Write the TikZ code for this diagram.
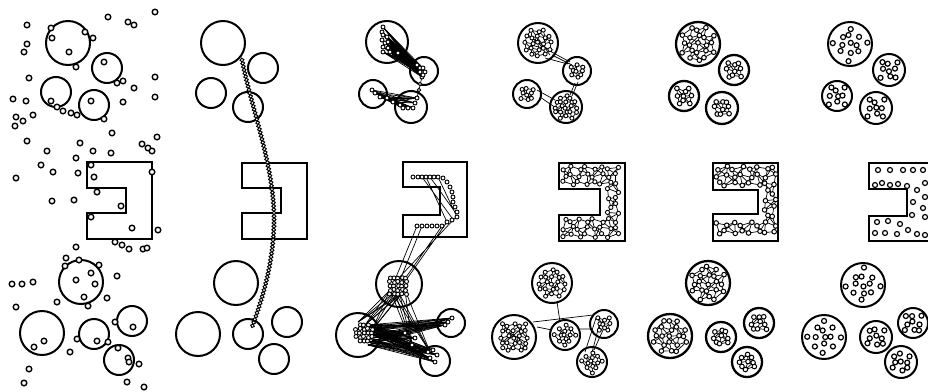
\documentclass[tikz,border=0pt]{standalone}
\usetikzlibrary{decorations.markings}
% grid network: #1 x0 #2 y0 #3 imax #4 jmax #5 spacing #6 test(\X,\Y) #7 edges #8 node radius #9 jitter
\newcommand\gridnet[9]{%
 \ifnum#7>0\relax
 \foreach \i in {0,...,#3}{\foreach \j in {0,...,#4}{%
   \pgfmathsetmacro\X{#1+\i*#5}\pgfmathsetmacro\Y{#2+\j*#5}%
   \pgfmathtruncatemacro\okA{#6}%
   \ifnum\okA=1
     \pgfmathsetmacro\ax{#1+\i*#5+#9*jx(\i,\j,#1)}\pgfmathsetmacro\ay{#2+\j*#5+#9*jy(\i,\j,#2)}%
     \pgfmathsetmacro\X{#1+(\i+1)*#5}\pgfmathsetmacro\Y{#2+\j*#5}\pgfmathtruncatemacro\okB{#6}%
     \ifnum\okB=1 \draw[lnk] (\ax,\ay) -- ({\X+#9*jx(\i+1,\j,#1)},{\Y+#9*jy(\i+1,\j,#2)});\fi
     \pgfmathsetmacro\X{#1+\i*#5}\pgfmathsetmacro\Y{#2+(\j+1)*#5}\pgfmathtruncatemacro\okB{#6}%
     \ifnum\okB=1 \draw[lnk] (\ax,\ay) -- ({\X+#9*jx(\i,\j+1,#1)},{\Y+#9*jy(\i,\j+1,#2)});\fi
     \pgfmathtruncatemacro\dd{mod(\i+\j,2)==0 ? 1 : -1}%
     \pgfmathsetmacro\X{#1+(\i+1)*#5}\pgfmathsetmacro\Y{#2+((\j)+(\dd))*#5}\pgfmathtruncatemacro\okB{#6}%
     \ifnum\okB=1 \draw[lnk] (\ax,\ay) -- ({\X+#9*jx(\i+1,(\j)+(\dd),#1)},{\Y+#9*jy(\i+1,(\j)+(\dd),#2)});\fi
   \fi
 }}%
 \fi
 \foreach \i in {0,...,#3}{\foreach \j in {0,...,#4}{%
   \pgfmathsetmacro\X{#1+\i*#5}\pgfmathsetmacro\Y{#2+\j*#5}%
   \pgfmathtruncatemacro\okA{#6}%
   \ifnum\okA=1 \draw[dot] ({\X+#9*jx(\i,\j,#1)},{\Y+#9*jy(\i,\j,#2)}) circle (#8pt);\fi
 }}%
}
% circle network: #1 cx #2 cy #3 r #4 spacing #5 edges #6 node radius #7 jitter #8 inset
\newcommand\circnet[8]{%
 \pgfmathtruncatemacro\cnN{floor((#3-#8)/#4)}%
 \pgfmathtruncatemacro\cnM{2*\cnN}%
 \pgfmathsetmacro\cnx{#1-\cnN*#4}\pgfmathsetmacro\cny{#2-\cnN*#4}%
 \gridnet{\cnx}{\cny}{\cnM}{\cnM}{#4}{(\X-(#1))^2+(\Y-(#2))^2<(#3-#8)^2}{#5}{#6}{#7}%
}
% C-shaped obstacle: x0 y0 x1 y1 notch-x notch-y1 notch-y2
\newcommand\Cshape[7]{\draw[obst] (#1,#2) -- (#3,#2) -- (#3,#4) -- (#1,#4) -- (#1,#7) -- (#5,#7) -- (#5,#6) -- (#1,#6) -- cycle;}
\begin{document}
\begin{tikzpicture}[x=1pt,y=-1pt,
 obst/.style={line width=2pt},
 smallc/.style={line width=1.4pt,fill=white},
 beadst/.style={line width=0.9pt,fill=white},
 lnk/.style={line width=0.7pt},
 dot/.style={line width=1pt,fill=white},
 declare function={jx(\a,\b,\c)=sin(137*\a+241*\b+\c); jy(\a,\b,\c)=cos(173*\a+89*\b+2*\c);}]
\useasboundingbox (0,0) rectangle (928,391);
\clip (0,0) rectangle (928,391);

% ================= Panel 1 =================
\foreach \x/\y/\r in {68/43/22,107/68/15,56/92/15,94/105/15,81/282/22,42/333/22,94/334/15,132/321/15,119/360/15}
  \draw[obst] (\x,\y) circle (\r pt);
\Cshape{87}{162}{152}{239}{126}{188}{213}
\foreach \p in {(108,17),(128,22),(134,25),(155,12),(27,25),(51,28),(52,38),(85,32),(93,38),(27,44),(24,52),(69,52),
 (76,67),(104,62),(117,83),(123,81),(155,77),(29,78),(134,88),(13,99),(26,101),(155,97),(123,102),(51,101),(57,107),
 (63,111),(71,113),(77,115),(91,101),(104,119),(16,117),(23,121),(15,126),(33,115),(112,133),(27,141),(80,143),
 (47,151),(76,158),(93,151),(111,153),(142,144),(148,148),(152,151),(157,137),(41,165),(53,172),(78,173),(91,165),
 (94,177),(152,172),(16,178),(97,192),(52,201),(74,200),(121,206),(91,217),(132,228),(158,230),(115,242),(122,245),
 (129,249),(143,249),(147,248),(76,247),(66,258),(79,260),(99,265),(117,276),(91,273),(76,280),(95,284),(84,297),
 (65,266),(12,284),(22,284),(33,282),(57,302),(107,298),(16,307),(88,306),(115,322),(133,327),(77,339),(97,341),
 (108,342),(44,341),(34,347),(70,352),(118,348),(128,358),(129,362),(139,364),(29,369),(24,383),(127,382),(144,387)}
  \draw[smallc] \p circle (2.8pt);

% ================= Panel 2 =================
\foreach \x/\y/\r in {223/43/22,263/68/15,211/93/15,248/107/15,236/283/22,198/334/22,248/334/15,287/322/15,274/359/15}
  \draw[obst] (\x,\y) circle (\r pt);
\Cshape{242}{163}{307}{239}{281}{188}{213}
\path[decorate,decoration={markings,mark=between positions 0 and 1 step 3.4pt with {\draw[beadst,line width=1pt] (0,0) circle (1.9pt);}}]
  (242,60) .. controls (252,110) and (272,160) .. (274,213) .. controls (275,260) and (262,300) .. (252,327);

% ================= Panel 3 =================
\foreach \x/\y/\r in {387/42/21,424/71/14,373/94/14,411/107/16,399/284/23,358/335/22,451/323/14,435/361/15}
  \draw[obst] (\x,\y) circle (\r pt);
\Cshape{403}{162}{467}{237}{440}{187}{215}
\def\PtA{(383,27),(382,32),(383,35),(387,37),(382,40),(385,43),(388,42),(383,47),(388,48),(383,52),(390,52),(398,53)}
\def\PtB{(417,65),(420,68),(423,68),(420,72),(425,72),(422,77),(423,75)}
\def\PtC{(372,90),(375,93),(380,97),(387,98),(393,102)}
\def\PtD{(400,105),(403,108),(408,108),(413,108),(415,103),(417,98)}
\foreach \p in \PtA {\foreach \q in \PtB {\draw[lnk] \p -- \q;}}
\foreach \p in \PtC {\foreach \q in \PtD {\draw[lnk] \p -- \q;}}
\draw[lnk] (422,77) -- (417,98);
\foreach \p in \PtA {\draw[beadst] \p circle (2pt);}
\foreach \p in \PtB {\draw[beadst] \p circle (2pt);}
\foreach \p in \PtC {\draw[beadst] \p circle (2pt);}
\foreach \p in \PtD {\draw[beadst] \p circle (2pt);}
\draw[beadst] (420,84) circle (1.8pt) (419,90) circle (1.8pt);
% C interior chain
\draw[lnk] (422,177) -- (452,218) (430,177) -- (455,212) (438,177) -- (457,217) (426,177) -- (447,222);
\draw[lnk] (455,218) -- (395,282) (417,226) -- (392,287) (422,226) -- (400,280) (447,222) -- (404,283) (442,226) -- (397,290);
\foreach \p in {(413,177),(418,177),(422,177),(426,177),(430,177),(434,177),(438,177),(443,178),(447,182),(450,187),
 (452,192),(453,197),(453,202),(455,207),(457,212),(457,217),(452,220),(447,222),(442,226),(437,226),(432,226),(427,226),(422,226),(417,226)}
  \draw[beadst] \p circle (2pt);
% bottom clusters and links
\def\PtL{(366,325),(370,330),(374,335),(372,341),(368,345),(362,340),(358,328),(376,328)}
\def\PtR{(452,318),(448,322),(445,325),(433,350),(437,355),(435,362),(430,358),(428,352),(415,338),(405,333)}
\foreach \p in \PtL {\foreach \q in \PtR {\draw[lnk] \p -- \q;}}
\foreach \p in {(395,292),(400,295),(390,290),(405,290)} {\foreach \q in {(358,322),(365,325),(372,330),(430,352),(412,345)} {\draw[lnk] \p -- \q;}}
\begin{scope}[dot/.style={line width=0.9pt,fill=white}]
\circnet{398}{286}{12}{4}{0}{2}{0.6}{0}
\circnet{364}{333}{11}{4}{0}{2}{0.6}{0}
\end{scope}
\foreach \p in {(452,318),(448,322),(445,325),(433,350),(437,355),(435,362),(430,358),(428,352),(415,338),(405,333),(412,345)}
  \draw[beadst] \p circle (2pt);

% ================= Panel 4 =================
\foreach \x/\y/\r in {538/43/20,577/71/14,527/94/14,566/107/16,552/283/20,514/337/22,565/335/15,604/324/14,592/362/15}
  \draw[obst] (\x,\y) circle (\r pt);
\Cshape{559}{163}{625}{241}{600}{189}{215}
\draw[lnk] (548,50) -- (570,62) (552,55) -- (572,65) (545,58) -- (568,64) (575,83) -- (570,95) (578,82) -- (572,96)
  (537,90) -- (555,100) (540,97) -- (556,108)
  (557,302) -- (560,322) (533,322) -- (593,315) (537,327) -- (552,330) (580,329) -- (590,329)
  (600,322) -- (590,360) (596,318) -- (585,352) (603,330) -- (594,350);
\draw[lnk] (528,35) -- (552,52) (530,45) -- (553,50) (532,30) -- (550,55) (505,330) -- (525,342) (508,340) -- (522,328);
\begin{scope}[dot/.style={line width=0.9pt,fill=white}]
\foreach \x/\y/\r/\s in {538/43/20/6,577/71/14/5,527/94/14/5,566/107/16/5,552/283/20/6,514/337/22/6,565/335/15/5,604/324/14/5,592/362/15/5}
  {\circnet{\x}{\y}{\r}{\s}{1}{2}{1.2}{4}}
\gridnet{564}{168}{8}{9}{7.5}{and(and(and(\X>561,\X<623),and(\Y>165,\Y<239)),not(and(\X<603,and(\Y>187,\Y<217))))}{1}{2.1}{2}
\end{scope}

% ================= Panel 5 =================
\foreach \x/\y/\r in {698/44/22,734/70/15,684/96/15,722/108/16,708/283/22,670/336/22,721/337/15,759/323/15,747/362/15}
  \draw[obst,line width=2.3pt] (\x,\y) circle (\r pt);
\draw[obst,line width=2.3pt] (713,163) -- (778,163) -- (778,241) -- (713,241) -- (713,214) -- (758,214) -- (758,190) -- (713,190) -- cycle;
\begin{scope}[dot/.style={line width=1pt,fill=white}]
\foreach \x/\y/\r/\s in {698/44/22/7.5,734/70/15/6,684/96/15/6,722/108/16/6,708/283/22/7.5,670/336/22/7.5,721/337/15/6,759/323/15/6,747/362/15/6}
  {\circnet{\x}{\y}{\r}{\s}{1}{2.3}{1.6}{4}}
\gridnet{718}{168}{7}{9}{8}{and(and(and(\X>715,\X<776),and(\Y>165,\Y<239)),not(and(\X<761,and(\Y>187,\Y<217))))}{1}{2.3}{2}
\end{scope}

% ================= Panel 6 =================
\foreach \x/\y/\r in {850/44/22,889/70/16,837/96/15,876/108/16,863/285/22,824/337/22,876/337/16,913/323/15,901/362/16}
  \draw[obst] (\x,\y) circle (\r pt);
\Cshape{869}{163}{934}{241}{907}{189}{216}
\begin{scope}[dot/.style={line width=1.2pt,fill=white}]
\foreach \x/\y/\r/\s in {850/44/22/8,889/70/16/7,837/96/15/7,876/108/16/7,863/285/22/8,824/337/22/8,876/337/16/7,913/323/15/7,901/362/16/7}
  {\circnet{\x}{\y}{\r}{\s}{0}{2.5}{1.5}{5}}
\end{scope}
\foreach \p in {(878,170),(890,170),(903,170),(913,170),(923,170),(875,185),(882,183),(890,185),(898,184),(907,186),
 (917,190),(925,183),(913,202),(925,197),(923,208),(912,215),(925,217),(877,222),(888,221),(900,224),
 (875,233),(885,233),(897,234),(908,230),(917,234),(925,235)}
  \draw[smallc,line width=1.2pt] \p circle (2.5pt);
\end{tikzpicture}
\end{document}
